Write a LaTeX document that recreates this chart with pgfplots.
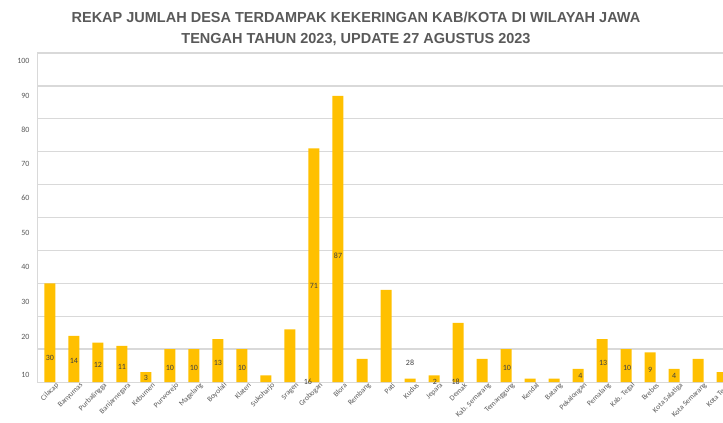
\documentclass[border=0pt]{standalone}
\usepackage{fontspec}
\setmainfont{Carlito}
\newfontfamily\titlefont{Liberation Sans}
\usepackage{pgfplots}
\pgfplotsset{compat=1.18}
\definecolor{barc}{HTML}{FFC000}
\definecolor{txt}{HTML}{595959}
\definecolor{gridc}{HTML}{D9D9D9}
\definecolor{lab}{HTML}{404040}
\begin{document}
\begin{tikzpicture}
\useasboundingbox (-37pt,-41pt) rectangle (686pt,382pt);
\begin{axis}[
  at={(0pt,0pt)}, anchor=south west,
  scale only axis, width=686pt, height=329pt,
  xmin=-0.54, xmax=28.04, ymin=0, ymax=100,
  axis x line*=bottom, axis y line*=left,
  axis line style={gridc, line width=1pt},
  major tick length=0pt,
  ytick={2.1,13.7,24.3,35.0,45.3,55.9,66.3,76.6,86.9,97.6},
  yticklabels={10,20,30,40,50,60,70,80,90,100},
  yticklabel style={font=\fontsize{8}{8}\selectfont, text=txt, xshift=-4pt},
  extra y ticks={10,20,30,40,50,60,70,80,90,100},
  extra y tick labels={},
  extra y tick style={ymajorgrids=true, major grid style={gridc, line width=1.3pt}},
  xtick={0,...,28},
  xticklabels={Cilacap,Banyumas,Purbalingga,Banjarnegara,Kebumen,Purworejo,Magelang,Boyolali,Klaten,Sukoharjo,Sragen,Grobogan,Blora,Rembang,Pati,Kudus,Jepara,Demak,Kab. Semarang,Temanggung,Kendal,Batang,Pekalongan,Pemalang,Kab. Tegal,Brebes,Kota Salatiga,Kota Semarang,Kota Tegal},
  xticklabel style={rotate=45, anchor=east, font=\fontsize{7.5}{7.5}\selectfont, text=txt, inner sep=0pt, xshift=4pt, yshift=-7pt},
  clip=true,
]
\addplot[ybar, bar width=11pt, fill=barc, draw=none] coordinates {
(0,30) (1,14) (2,12) (3,11) (4,3) (5,10) (6,10) (7,13) (8,10) (9,2)
(10,16) (11,71) (12,87) (13,7) (14,28) (15,1) (16,2) (17,18) (18,7) (19,10)
(20,1) (21,1) (22,4) (23,13) (24,10) (25,9) (26,4) (27,7) (28,3)};
\addplot[only marks, mark=*, mark size=0pt, mark options={draw=none, fill=none},
  nodes near coords, point meta=explicit symbolic,
  nodes near coords style={anchor=center, inner sep=0pt, font=\fontsize{8}{8}\selectfont, text=lab}]
  table[meta=t] {
x y t
0 7.3 30
1 6.5 14
2 5.2 12
3 4.5 11
4 1.2 3
5 4.4 10
6 4.4 10
7 5.8 13
8 4.4 10
9.05 -0.9 2
10.75 0 16
11 29.2 71
12 38.4 87
13.05 -2.8 7
15 5.9 28
15.1 -0.2 1
16.04 0.1 2
16.9 0 18
18.4 -3 7
19.04 4.3 10
20.1 -1 1
21.04 -1 1
22.1 1.8 4
23.05 5.8 13
24.05 4.4 10
25 3.6 9
26 1.8 4
};
\end{axis}
\node[align=center, text=txt, font=\titlefont\bfseries\fontsize{14.5}{21}\selectfont] at (319pt,353pt) {REKAP JUMLAH DESA TERDAMPAK KEKERINGAN KAB/KOTA DI WILAYAH JAWA\\TENGAH TAHUN 2023, UPDATE 27 AGUSTUS 2023};
\end{tikzpicture}
\end{document}
